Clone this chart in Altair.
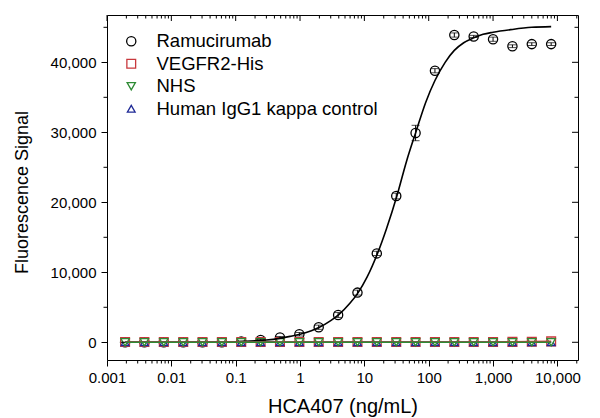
import altair as alt
import pandas as pd

# ---------------- data ----------------
conc = [0.00191, 0.00381, 0.00763, 0.0153, 0.0305, 0.061, 0.122, 0.244, 0.488,
        0.977, 1.95, 3.91, 7.81, 15.6, 31.3, 62.5, 125, 250, 500, 1000, 2000,
        4000, 8000]
ramucirumab = [0, 0, 0, 0, 0, 0, 100, 320, 680, 1150, 2150, 3900, 7100, 12700,
               20900, 29900, 38800, 43900, 43700, 43300, 42300, 42600, 42600]
ramucirumab_err = [30, 30, 30, 30, 30, 30, 60, 100, 150, 250, 300, 350, 350,
                   300, 400, 1100, 300, 300, 150, 300, 200, 200, 200]
vegfr2 = [30, 30, 30, 30, 30, 30, 30, 30, 30, 30, 30, 30, 30, 30, 30, 30, 30,
          30, 30, 40, 60, 90, 130]
nhs = [0, 0, 0, 0, 0, 0, 0, 0, 0, 0, 0, 0, 0, 0, 0, 0, 0, 0, 0, 0, 0, 0, 0]
igg1 = [20, 20, 20, 20, 20, 20, 20, 20, 20, 20, 20, 20, 20, 20, 20, 20, 20, 20,
        20, 20, 20, 20, 20]

curve_x = [0.00191, 0.01, 0.03, 0.1, 0.2, 0.3, 0.5, 0.7, 1, 1.5, 2, 3, 4, 6, 8,
           11, 16, 22, 32, 45, 64, 90, 125, 180, 250, 350, 500, 700, 1000,
           2000, 4000, 8000]
curve_y = [0, 5, 20, 80, 200, 320, 600, 850, 1150, 1650, 2150, 3100, 3950, 5600,
           7100, 9300, 12700, 16200, 20900, 25800, 30200, 34300, 37400, 40000,
           41700, 42800, 43500, 44000, 44300, 44700, 45000, 45100]

series = ["Ramucirumab", "VEGFR2-His", "NHS", "Human IgG1 kappa control"]
colors = ["#000000", "#c8383c", "#2e8b34", "#1f2a96"]
shapes = ["circle", "square", "triangle-down", "triangle-up"]
sizes = [85, 60, 260, 260]

x_domain = [0.001, 20900]
y_domain = [-2530, 46760]

x_major = [0.001, 0.01, 0.1, 1, 10, 100, 1000, 10000]
x_minor = [m * d for d in x_major for m in range(2, 10) if m * d <= x_domain[1]]
y_major = [0, 10000, 20000, 30000, 40000]
y_minor = [5000, 15000, 25000, 35000, 45000]

W, H = 471, 345
MAJ, MIN = 6, 3.5

FONT = "Liberation Sans"

# ---------------- tables ----------------
values = {"Ramucirumab": ramucirumab, "VEGFR2-His": vegfr2, "NHS": nhs,
          "Human IgG1 kappa control": igg1}
draw_order = ["Ramucirumab", "VEGFR2-His", "Human IgG1 kappa control", "NHS"]
rows = []
for s in draw_order:
    for c, v in zip(conc, values[s]):
        rows.append({"conc": c, "val": v, "series": s})
pts = pd.DataFrame(rows)

err = pd.DataFrame({"conc": conc, "val": ramucirumab, "err": ramucirumab_err})
err["lo"] = err["val"] - err["err"]
err["hi"] = err["val"] + err["err"]
caps = pd.concat([
    pd.DataFrame({"conc": err["conc"], "cap": err["lo"]}),
    pd.DataFrame({"conc": err["conc"], "cap": err["hi"]}),
], ignore_index=True)

curve = pd.DataFrame({"conc": curve_x, "val": curve_y})

xs = alt.Scale(type="log", domain=x_domain, nice=False)
ys = alt.Scale(domain=y_domain, nice=False, zero=False)

# the same axis definition is given to every layer so that they merge into one
XAX = alt.Axis(
    values=x_major, title="HCA407 (ng/mL)", domain=False, grid=False,
    format=",", labelFontSize=15, labelFont=FONT, labelColor="black",
    labelPadding=4, labelFlush=False, labelOverlap=False,
    tickColor="black", tickWidth=1, tickSize=MAJ,
    titleFontSize=20, titleFont=FONT, titleFontWeight="normal", titleColor="black",
    titleBaseline="alphabetic", titleY=52,
)
YAX = alt.Axis(
    values=y_major, title="Fluorescence Signal", domain=False, grid=False,
    format=",.0f", labelFontSize=15, labelFont=FONT, labelColor="black",
    labelPadding=5, labelFlush=False, labelOverlap=False,
    tickColor="black", tickWidth=1, tickSize=MAJ,
    titleFontSize=18, titleFont=FONT, titleFontWeight="normal", titleColor="black",
    titleBaseline="alphabetic", titleX=-80, titleY=177, titleAngle=-90,
)


def X(field):
    return alt.X(field, scale=xs, axis=XAX)


def Y(field):
    return alt.Y(field, scale=ys, axis=YAX)


# ---------------- layers ----------------
legend = alt.Legend(orient="none", legendX=15, legendY=17, title=None,
                    labelFontSize=18.5, labelFont=FONT, labelColor="black",
                    labelOffset=16, labelLimit=0, rowPadding=3.5,
                    symbolStrokeWidth=1.3, symbolSize=100,
                    symbolFillColor="white", padding=0)

points = alt.Chart(pts).mark_point(filled=False, fill="white", fillOpacity=1,
                                   strokeWidth=1.3, opacity=1).encode(
    x=X("conc:Q"),
    y=Y("val:Q"),
    color=alt.Color("series:N", scale=alt.Scale(domain=series, range=colors),
                    legend=legend),
    shape=alt.Shape("series:N", scale=alt.Scale(domain=series, range=shapes),
                    legend=legend),
    size=alt.Size("series:N", scale=alt.Scale(domain=series, range=sizes),
                  legend=None),
)

bars = alt.Chart(err).mark_rule(color="black", strokeWidth=1).encode(
    x=X("conc:Q"), y=Y("lo:Q"), y2="hi:Q",
)
cap_marks = alt.Chart(caps).mark_tick(color="black", thickness=1, size=8,
                                      orient="horizontal").encode(
    x=X("conc:Q"), y=Y("cap:Q"),
)

fit = alt.Chart(curve).mark_line(color="black", strokeWidth=1.6,
                                 interpolate="monotone").encode(
    x=X("conc:Q"), y=Y("val:Q"),
)


def ctrl_line(name, col):
    d = pts[pts["series"] == name]
    return alt.Chart(d).mark_line(color=col, strokeWidth=1.6).encode(
        x=X("conc:Q"), y=Y("val:Q"),
    )


line_red = ctrl_line("VEGFR2-His", colors[1])
line_blue = ctrl_line("Human IgG1 kappa control", colors[3])
line_green = ctrl_line("NHS", colors[2])


# extra tick marks: minor ticks outside (bottom/left), mirrored ticks inside (top/right)
def xtick_rules(vals, p0, p1):
    return alt.Chart(pd.DataFrame({"conc": vals})).mark_rule(
        color="black", strokeWidth=1).encode(
        x=X("conc:Q"), y=alt.value(p0), y2=alt.value(p1))


def ytick_rules(vals, p0, p1):
    return alt.Chart(pd.DataFrame({"val": vals})).mark_rule(
        color="black", strokeWidth=1).encode(
        y=Y("val:Q"), x=alt.value(p0), x2=alt.value(p1))


tick_layers = [
    xtick_rules(x_minor, H, H + MIN),
    xtick_rules(x_major, 0, MAJ),
    xtick_rules(x_minor, 0, MIN),
    ytick_rules(y_minor, 0, -MIN),
    ytick_rules(y_major, W, W - MAJ),
    ytick_rules(y_minor, W, W - MIN),
]

chart = alt.layer(
    points, bars, cap_marks, fit, line_blue, line_red, line_green, *tick_layers
).properties(
    width=W, height=H,
    padding={"left": 107, "top": 15, "right": 22, "bottom": 58},
    autosize=alt.AutoSizeParams(type="none"),
    background="white",
).configure_view(stroke="black", strokeWidth=1)

chart.save("out.html", embed_options={"renderer": "svg", "actions": False})
